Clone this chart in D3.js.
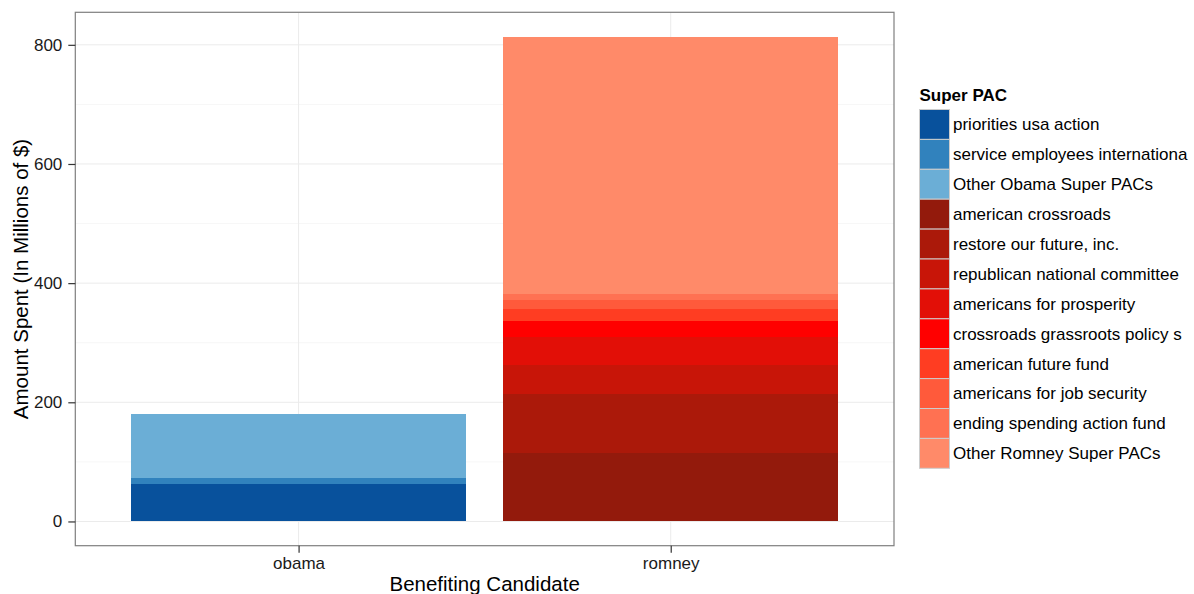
<!DOCTYPE html>
<html>
<head>
<meta charset="utf-8">
<script src="https://cdn.jsdelivr.net/npm/d3@7"></script>
<style>
  body { margin: 0; background: #fff; }
  svg { display: block; font-family: "Liberation Sans", Arial, sans-serif; }
</style>
</head>
<body>
<svg id="chart" width="1194" height="594"></svg>
<script>
// ---- data ----
const candidates = ["obama", "romney"];
const pacNames = [
  "priorities usa action",
  "service employees internationa",
  "Other Obama Super PACs",
  "american crossroads",
  "restore our future, inc.",
  "republican national committee",
  "americans for prosperity",
  "crossroads grassroots policy s",
  "american future fund",
  "americans for job security",
  "ending spending action fund",
  "Other Romney Super PACs"
];
const pacCandidate = ["obama","obama","obama","romney","romney","romney","romney","romney","romney","romney","romney","romney"];
const pacAmounts = [62.4, 10.1, 107.1, 114.8, 98.3, 50.2, 46.3, 27.3, 20.1, 15.1, 10.0, 431.8];
const pacColors = ["#08519C","#3182BD","#6BAED6","#931A0C","#AB190A","#C81508","#E20F07","#FF0000","#FF3D22","#FF5A3B","#FF7152","#FF8A69"];
const yTicks = [0, 200, 400, 600, 800];
const yMinorTicks = [100, 300, 500, 700];

// ---- layout ----
const svg = d3.select("#chart");
const panel = { left: 75.3, right: 894, top: 12.3, bottom: 545.7 };

// stacking
const stacked = [];
const tops = {};
candidates.forEach(c => tops[c] = 0);
pacNames.forEach((name, i) => {
  const c = pacCandidate[i];
  const y0 = tops[c];
  const y1 = y0 + pacAmounts[i];
  tops[c] = y1;
  stacked.push({ name, cand: c, y0, y1, color: pacColors[i] });
});
const maxVal = d3.max(candidates, c => tops[c]);
const pad = maxVal * 0.05;

const y = d3.scaleLinear().domain([-pad, maxVal + pad]).range([panel.bottom, panel.top]);
// ggplot: discrete expansion 0.6, width 0.9
const step = (panel.right - panel.left) / (candidates.length - 1 + 1.2);
const xc = d3.scalePoint().domain(candidates)
  .range([panel.left + 0.6 * step, panel.right - 0.6 * step]);
const barW = 0.9 * step;

// panel background
svg.append("rect").attr("x", panel.left).attr("y", panel.top)
  .attr("width", panel.right - panel.left).attr("height", panel.bottom - panel.top)
  .attr("fill", "#fff");

// grid
const g = svg.append("g");
g.selectAll(".minor").data(yMinorTicks).join("line")
  .attr("x1", panel.left).attr("x2", panel.right)
  .attr("y1", d => y(d)).attr("y2", d => y(d))
  .attr("stroke", "#F7F7F7").attr("stroke-width", 1);
g.selectAll(".major").data(yTicks).join("line")
  .attr("x1", panel.left).attr("x2", panel.right)
  .attr("y1", d => y(d)).attr("y2", d => y(d))
  .attr("stroke", "#EBEBEB").attr("stroke-width", 1);
g.selectAll(".vmajor").data(candidates).join("line")
  .attr("x1", d => xc(d)).attr("x2", d => xc(d))
  .attr("y1", panel.top).attr("y2", panel.bottom)
  .attr("stroke", "#EBEBEB").attr("stroke-width", 1);

// bars
svg.append("g").attr("shape-rendering", "crispEdges")
  .selectAll("rect").data(stacked).join("rect")
  .attr("x", d => xc(d.cand) - barW / 2)
  .attr("width", barW)
  .attr("y", d => y(d.y1))
  .attr("height", d => y(d.y0) - y(d.y1))
  .attr("fill", d => d.color);

// panel border
svg.append("rect").attr("x", panel.left).attr("y", panel.top)
  .attr("width", panel.right - panel.left).attr("height", panel.bottom - panel.top)
  .attr("fill", "none").attr("stroke", "#7F7F7F").attr("stroke-width", 1.2);

// y axis
const yAxis = d3.axisLeft(y).tickValues(yTicks).tickSize(7).tickPadding(6);
const ya = svg.append("g").attr("transform", `translate(${panel.left},0)`).call(yAxis);
ya.select(".domain").remove();
ya.selectAll(".tick line").attr("stroke", "#333").attr("stroke-width", 1.2);
ya.selectAll(".tick text").attr("font-size", 17).attr("fill", "#1a1a1a")
  .attr("font-family", "Liberation Sans, Arial, sans-serif");

// x axis
const xAxis = d3.axisBottom(xc).tickSize(7).tickPadding(4);
const xa = svg.append("g").attr("transform", `translate(0,${panel.bottom})`).call(xAxis);
xa.select(".domain").remove();
xa.selectAll(".tick line").attr("stroke", "#333").attr("stroke-width", 1.2);
xa.selectAll(".tick text").attr("font-size", 17).attr("fill", "#1a1a1a")
  .attr("font-family", "Liberation Sans, Arial, sans-serif");

// axis titles
svg.append("text").attr("x", (panel.left + panel.right) / 2).attr("y", 591)
  .attr("text-anchor", "middle").attr("font-size", 20.5).attr("fill", "#000")
  .text("Benefiting Candidate");
svg.append("text")
  .attr("transform", `translate(27.5,${(panel.top + panel.bottom) / 2}) rotate(-90)`)
  .attr("text-anchor", "middle").attr("font-size", 20.5).attr("fill", "#000")
  .text("Amount Spent (In Millions of $)");

// legend
const leg = svg.append("g").attr("transform", "translate(919.5,109.5)");
leg.append("text").attr("x", 0).attr("y", -8.5).attr("font-size", 17)
  .attr("font-weight", "bold").attr("fill", "#000").text("Super PAC");
const keyH = 29.9;
const items = leg.selectAll(".item").data(pacNames).join("g")
  .attr("transform", (d, i) => `translate(0,${i * keyH})`);
items.append("rect").attr("width", 30).attr("height", keyH)
  .attr("fill", (d, i) => pacColors[i]).attr("stroke", "#CCCCCC").attr("stroke-width", 1);
items.append("text").attr("x", 33.5).attr("y", keyH / 2).attr("dy", "0.35em")
  .attr("font-size", 17).attr("fill", "#000").text(d => d);
</script>
</body>
</html>
